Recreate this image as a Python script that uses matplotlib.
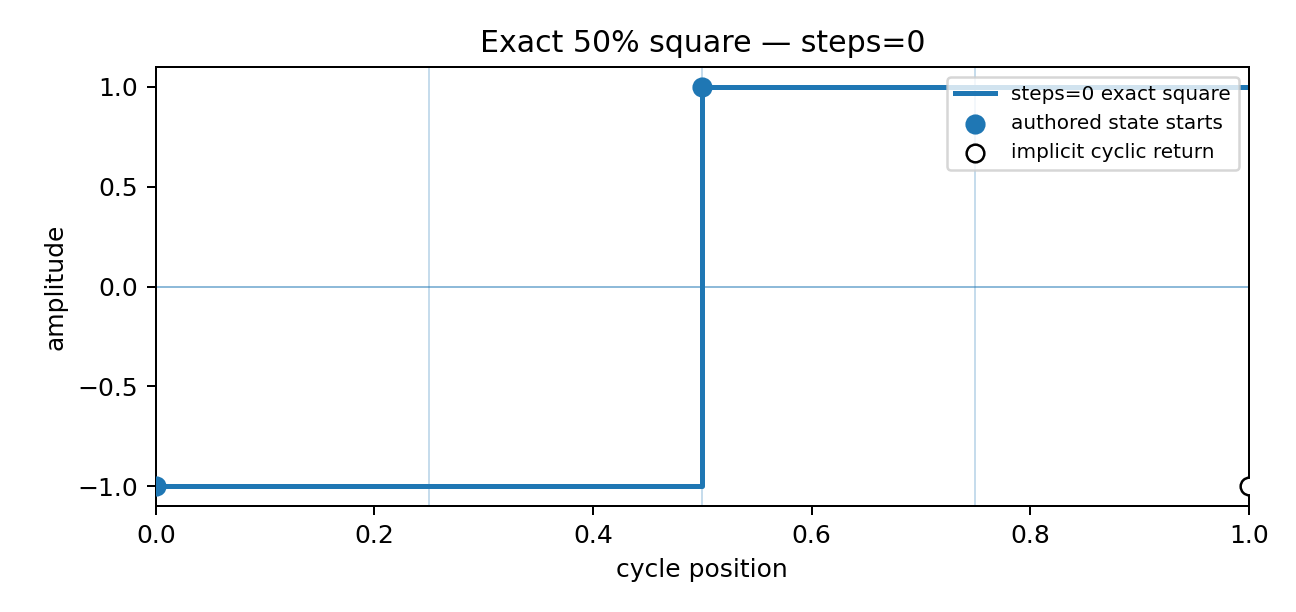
import numpy as np
from matplotlib import pyplot as plt

# step waveform over one cycle
cycle_x = [0.0, 0.5, 1.0]
cycle_y = [-1.0, 1.0, 1.0]

# authored state starts
start_x = [0.0, 0.5]
start_y = [-1.0, 1.0]

# implicit cyclic return
return_x = [1.0]
return_y = [-1.0]

quarter_lines = [0.25, 0.5, 0.75]

fig, ax = plt.subplots(figsize=(7.2, 3.4), dpi=180)

for q in quarter_lines:
    ax.axvline(q, color="C0", alpha=0.25, linewidth=0.8)
ax.axhline(0, color="C0", alpha=0.5, linewidth=0.8)

ax.step(cycle_x, cycle_y, where="post", color="C0", linewidth=2,
        label="steps=0 exact square")
ax.scatter(start_x, start_y, s=50, color="C0", zorder=3,
           label="authored state starts")
ax.scatter(return_x, return_y, s=50, facecolor="white", edgecolor="black",
           zorder=3, label="implicit cyclic return")

ax.set_xlim(0, 1)
ax.set_ylim(-1.1, 1.1)
ax.set_xlabel("cycle position")
ax.set_ylabel("amplitude")
ax.set_title("Exact 50% square \u2014 steps=0")
ax.legend(loc="upper right", fontsize=8)

fig.subplots_adjust(left=0.1203, right=0.9635, top=0.8905, bottom=0.173)
fig.savefig("out.png")
